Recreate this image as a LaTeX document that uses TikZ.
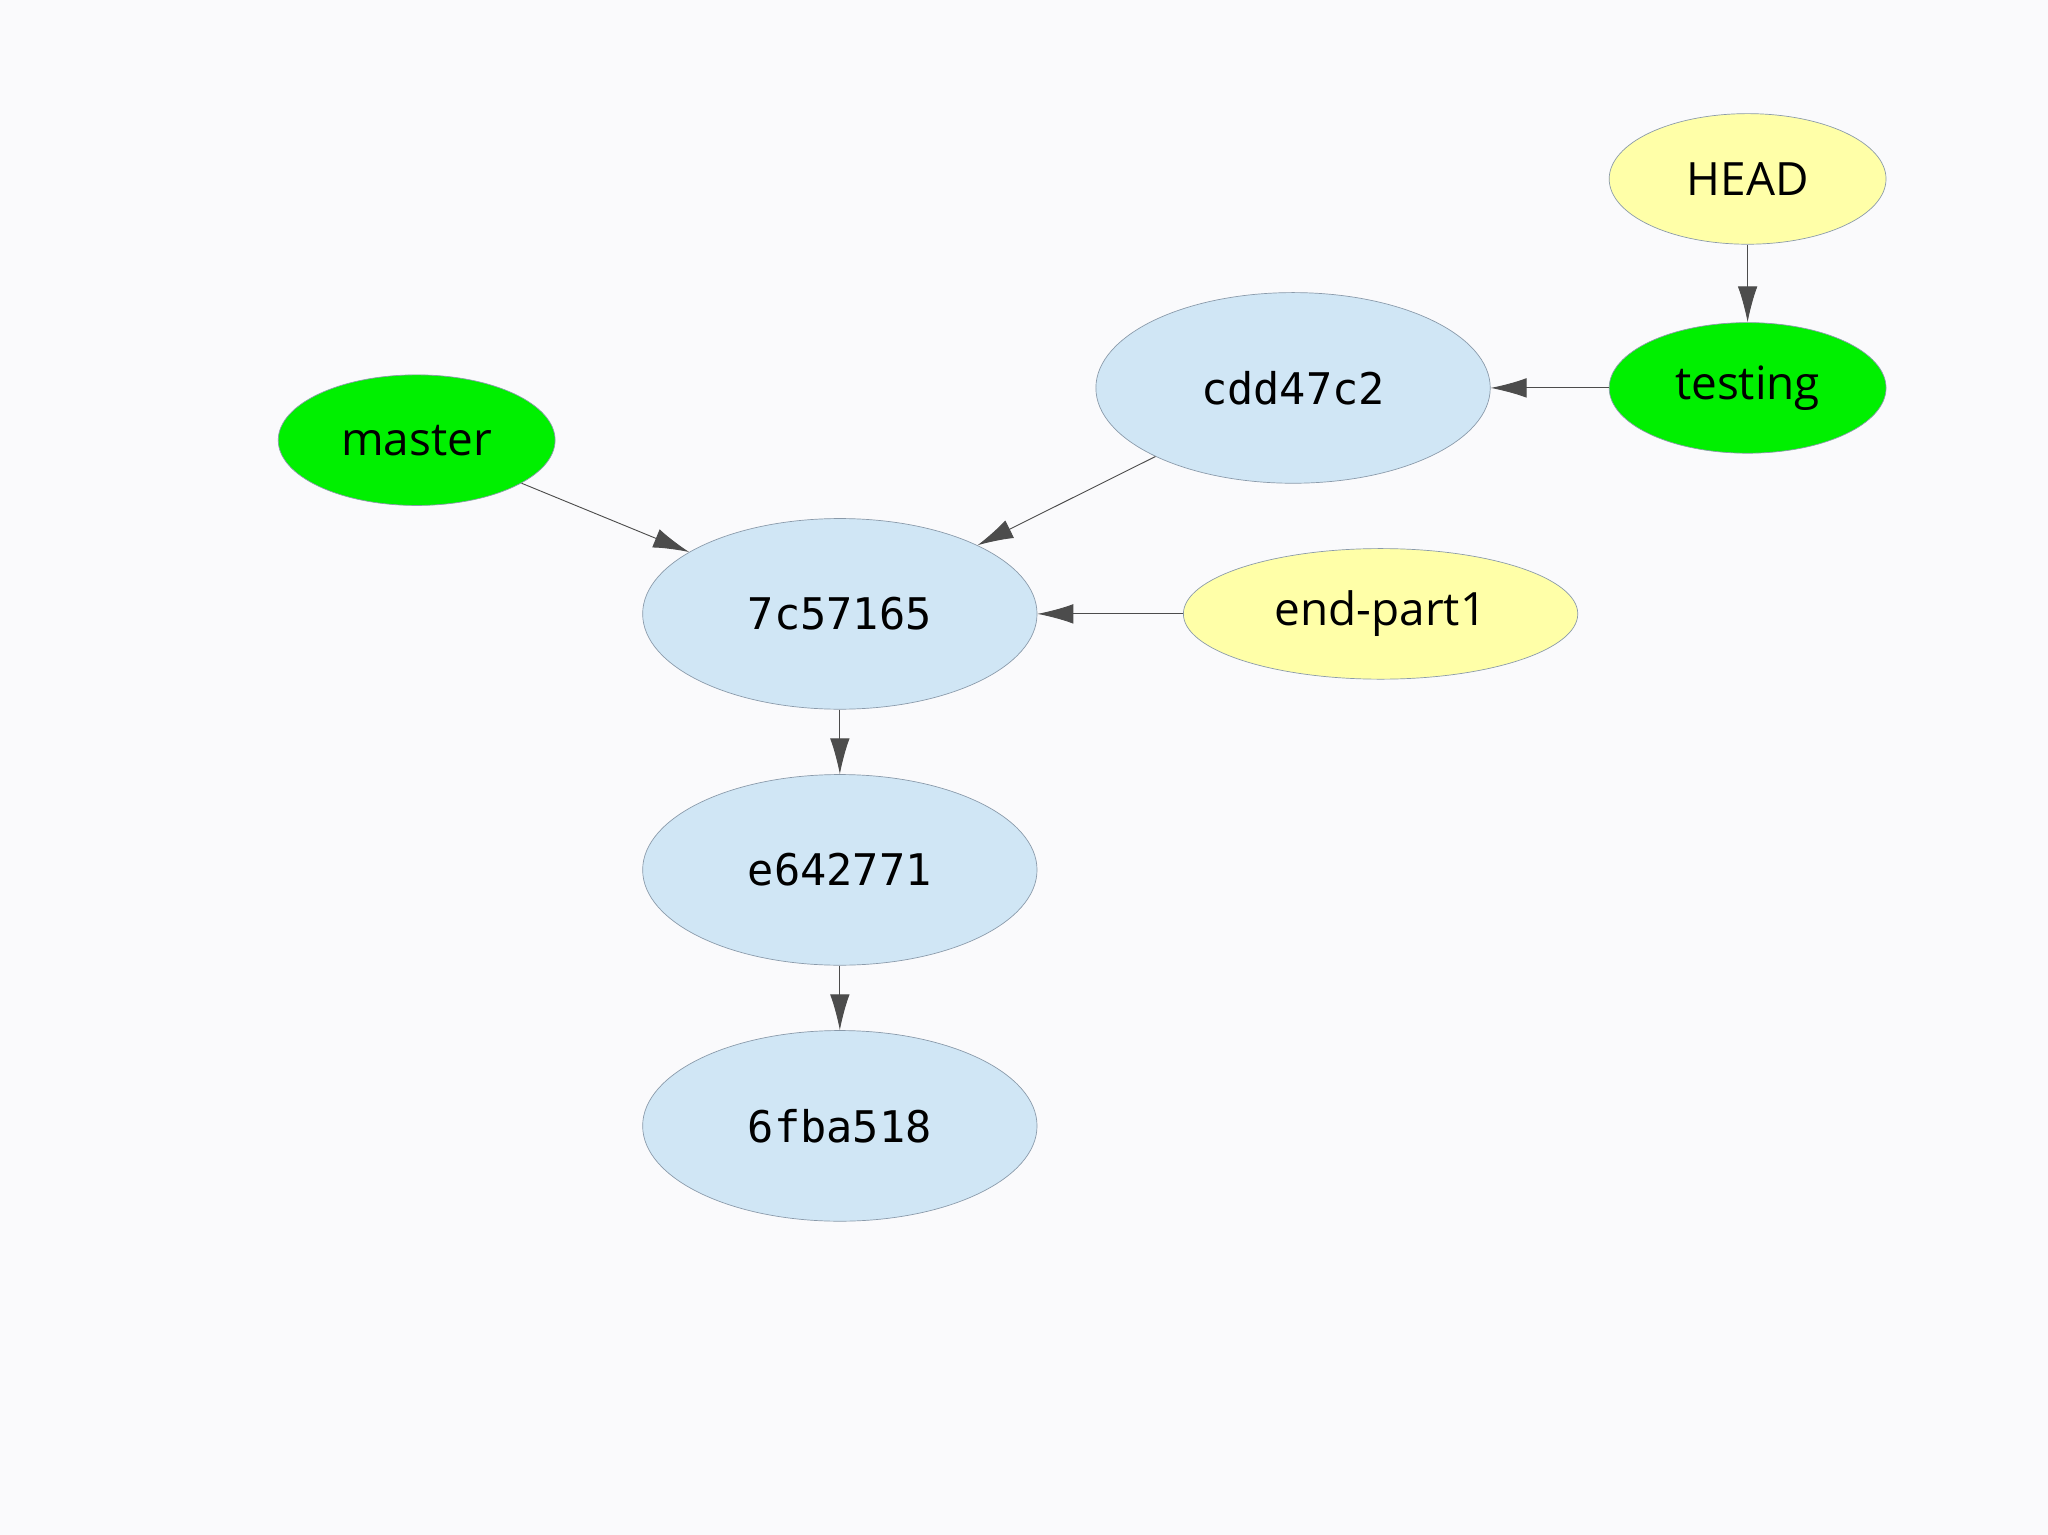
\documentclass[tikz,border=0pt]{standalone}
\usepackage{fontspec}
\setmainfont{Open Sans}
\newfontfamily\hashfont{DejaVu Sans Mono}
\usetikzlibrary{shapes.geometric,arrows.meta}
\definecolor{bgc}{HTML}{FAFAFC}
\definecolor{commitc}{HTML}{D0E6F5}
\definecolor{branchc}{HTML}{00F000}
\definecolor{tagc}{HTML}{FFFFA8}
\definecolor{edgec}{HTML}{8A9AAA}
\begin{document}
\begin{tikzpicture}[x=0.02cm,y=-0.02cm,
  base/.style={ellipse,draw=edgec,line width=0.3pt,inner sep=0pt,font=\fontsize{20}{24}\selectfont},
  commit/.style={base,fill=commitc,minimum width=6.04cm,minimum height=2.92cm,font=\hashfont\fontsize{19}{24}\selectfont},
  branch/.style={base,fill=branchc,minimum width=4.24cm,minimum height=2cm},
  tag/.style={base,fill=tagc,minimum width=4.24cm,minimum height=2cm},
  arr/.style={-{Latex[length=0.55cm,width=0.3cm]},line width=0.4pt,draw=black!70}]
\fill[bgc] (0,0) rectangle (1568,1175);
\useasboundingbox (0,0) rectangle (1568,1175);
\node[tag] (head) at (1338,137) {HEAD};
\node[branch] (testing) at (1338,297) {testing};
\node[commit] (cdd) at (990,297) {cdd47c2};
\node[branch] (master) at (319,337) {master};
\node[commit] (c7) at (643,470) {7c57165};
\node[tag,minimum width=6.04cm] (end) at (1057,470) {end-part1};
\node[commit] (e6) at (643,666) {e642771};
\node[commit] (f6) at (643,862) {6fba518};
\draw[arr] (head) -- (testing);
\draw[arr] (testing) -- (cdd);
\draw[arr] (cdd) -- (c7);
\draw[arr] (master) -- (c7);
\draw[arr] (end) -- (c7);
\draw[arr] (c7) -- (e6);
\draw[arr] (e6) -- (f6);
\end{tikzpicture}
\end{document}
